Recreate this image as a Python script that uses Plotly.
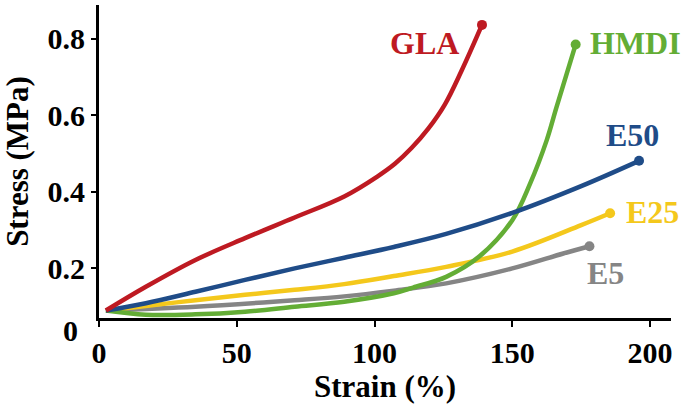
import plotly.graph_objects as go

# ---- data ----
gla_strain = [2.5, 17, 35, 53, 71, 89, 101, 107.5, 113.5, 119.5, 125.5, 131.5, 139]
gla_stress = [0.090, 0.152, 0.222, 0.279, 0.333, 0.388, 0.440, 0.474, 0.515, 0.565, 0.628, 0.715, 0.836]

hmdi_strain = [2.5, 17, 35, 53, 71, 89, 107, 114, 126, 138, 150, 156.5, 162.5, 166, 173]
hmdi_stress = [0.090, 0.079, 0.080, 0.087, 0.100, 0.113, 0.135, 0.150, 0.178, 0.231, 0.326, 0.422, 0.535, 0.620, 0.785]

e50_strain = [2.5, 17, 35, 53, 71, 89, 107, 126, 150, 175, 196]
e50_stress = [0.090, 0.109, 0.139, 0.170, 0.200, 0.228, 0.256, 0.290, 0.345, 0.415, 0.481]

e25_strain = [2.5, 17, 35, 53, 71, 89, 107, 126, 150, 175, 185.5]
e25_stress = [0.090, 0.102, 0.117, 0.131, 0.144, 0.159, 0.180, 0.204, 0.244, 0.313, 0.344]

e5_strain = [2.5, 35, 71, 89, 107, 126, 150, 168.5, 178]
e5_stress = [0.090, 0.100, 0.117, 0.127, 0.142, 0.161, 0.200, 0.239, 0.258]

x_ticks = [0, 50, 100, 150, 200]
y_ticks = [0.2, 0.4, 0.6, 0.8]
y_tick_text = ["0.2", "0.4", "0.6", "0.8"]

series = [
    ("GLA", gla_strain, gla_stress, "#BE1A22", 118.3, 0.789),
    ("HMDI", hmdi_strain, hmdi_stress, "#63AD35", 194.6, 0.789),
    ("E50", e50_strain, e50_stress, "#1F4C88", 193.8, 0.548),
    ("E25", e25_strain, e25_stress, "#F4C81C", 201.0, 0.347),
    ("E5", e5_strain, e5_stress, "#858585", 183.7, 0.188),
]

FONT = "Liberation Serif, Times New Roman, serif"

fig = go.Figure()
# draw order: gray, yellow, green, blue, red on top
for name in ["E5", "E25", "HMDI", "E50", "GLA"]:
    s = [t for t in series if t[0] == name][0]
    _, xs, ys, col, _, _ = s
    fig.add_trace(go.Scatter(
        x=xs, y=ys, mode="lines", name=name,
        line=dict(color=col, width=4.5, shape="spline", smoothing=1.0),
        showlegend=False, hoverinfo="skip"))
    fig.add_trace(go.Scatter(
        x=[xs[-1]], y=[ys[-1]], mode="markers",
        marker=dict(color=col, size=10), showlegend=False, hoverinfo="skip"))

for name, xs, ys, col, lx, ly in series:
    fig.add_annotation(x=lx, y=ly, xref="x", yref="y", text=name, showarrow=False,
                       font=dict(family=FONT, size=32, color=col, weight="bold"),
                       xanchor="center", yanchor="middle")

fig.add_annotation(x=-0.05, y=-0.04, xref="paper", yref="paper", text="0", showarrow=False,
                   font=dict(family=FONT, size=30, color="black", weight="bold"),
                   xanchor="center", yanchor="middle")

fig.update_layout(
    width=686, height=404,
    margin=dict(l=99, r=15, t=5, b=86),
    paper_bgcolor="white", plot_bgcolor="white",
    font=dict(family=FONT, color="black"),
    xaxis=dict(
        range=[0, 207.6], tickvals=x_ticks, ticktext=[str(v) for v in x_ticks],
        showgrid=False, zeroline=False, showline=True, linecolor="black", linewidth=3,
        ticks="outside", ticklen=6, tickwidth=2, tickcolor="black",
        tickfont=dict(family=FONT, size=30, color="black", weight="bold"),
        title=dict(text="Strain (%)", standoff=6,
                   font=dict(family=FONT, size=31, color="black", weight="bold")),
        automargin=False,
    ),
    yaxis=dict(
        range=[0.0705, 0.888], tickvals=y_ticks, ticktext=y_tick_text,
        showgrid=False, zeroline=False, showline=True, linecolor="black", linewidth=3,
        ticks="outside", ticklen=5, tickwidth=2, tickcolor="black",
        tickfont=dict(family=FONT, size=30, color="black", weight="bold"),
        title=dict(text="Stress (MPa)", standoff=10,
                   font=dict(family=FONT, size=31, color="black", weight="bold")),
        automargin=False,
    ),
)

fig.write_html("out.html", config={"displayModeBar": False},
               post_script="document.body.style.margin='0';")
